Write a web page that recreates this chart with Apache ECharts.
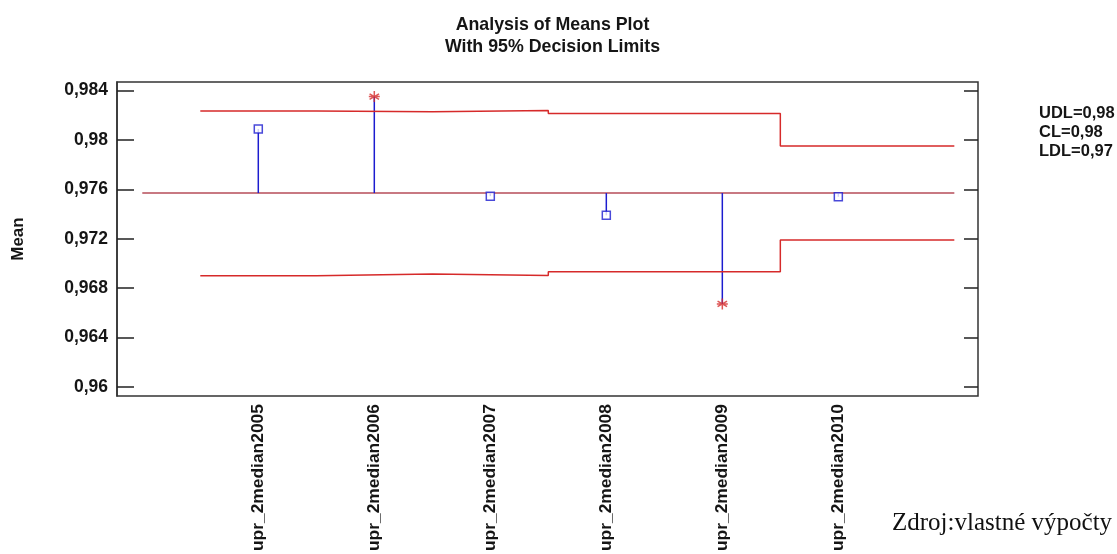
<!DOCTYPE html>
<html><head><meta charset="utf-8">
<script src="https://cdn.jsdelivr.net/npm/echarts@6/dist/echarts.min.js"></script>
<style>html,body{margin:0;padding:0;background:#fff}#c{width:1117px;height:554px}</style>
</head><body><div id="c"></div>
<script>
const categories = ['upr_2median2005','upr_2median2006','upr_2median2007','upr_2median2008','upr_2median2009','upr_2median2010'];
const means = [0.98089, 0.98352, 0.97545, 0.97390, 0.96672, 0.97540];
const centerLine = 0.9757;
const upperLimits = [0.98236, 0.98228, 0.98240, 0.98215, 0.98215, 0.97952];
const lowerLimits = [0.96900, 0.96914, 0.96903, 0.96932, 0.96932, 0.97190];
const yTicks = [0.96, 0.964, 0.968, 0.972, 0.976, 0.98, 0.984];
const summaryLabels = ['UDL=0,98', 'CL=0,98', 'LDL=0,97'];
const titleLines = ['Analysis of Means Plot', 'With 95% Decision Limits'];
const sourceNote = 'Zdroj:vlastné výpočty';

const FONT = "'Liberation Sans', Arial, sans-serif";
const RED = '#d62a2a', BLUE = '#1c1ccf', CLCOL = '#b64c58';
const n = categories.length;
const xEnd = n + 1;

function stepData(vals){
  const pts = [];
  vals.forEach((v, i) => {
    const a = i + 0.5, b = (i === vals.length - 1) ? xEnd : i + 1.5;
    pts.push([a, v], [b, v]);
  });
  return pts;
}
const inside = [], outside = [];
means.forEach((m, i) => {
  const p = [i + 1, m];
  if (m > upperLimits[i] || m < lowerLimits[i]) outside.push(p); else inside.push(p);
});
const fmt = v => String(+(+v).toFixed(3)).replace('.', ',');
const asterisk = 'path://M5 0L5 10M0.7 2.5L9.3 7.5M9.3 2.5L0.7 7.5M0 5L10 5';

const chart = echarts.init(document.getElementById('c'));
chart.setOption({
  animation: false,
  backgroundColor: '#fff',
  title: [
    { text: titleLines.join('\n'), left: 547.5, top: 9, textAlign: 'center',
      textStyle: { fontFamily: FONT, fontWeight: 'bold', fontSize: 17.8, lineHeight: 22, color: '#151515' } },
    { text: summaryLabels.join('\n'), left: 1034, top: 99,
      textStyle: { fontFamily: FONT, fontWeight: 'bold', fontSize: 16.5, lineHeight: 19, color: '#151515' } },
    { text: sourceNote, left: 887, top: 506,
      textStyle: { fontFamily: "'Liberation Serif', 'Times New Roman', serif", fontWeight: 'normal', fontSize: 25, color: '#111' } }
  ],
  grid: { left: 117, top: 82, right: 139, bottom: 157, show: true, borderColor: '#333', borderWidth: 1.5, backgroundColor: 'transparent' },
  xAxis: {
    type: 'value', min: -0.218, max: 7.204,
    axisLine: { show: false }, axisTick: { show: false }, splitLine: { show: false },
    axisLabel: { customValues: categories.map((c, i) => i + 1), formatter: v => categories[Math.round(v) - 1] || '',
      rotate: 90, margin: 8, fontFamily: FONT, fontWeight: 'bold', fontSize: 17.4, color: '#151515' }
  },
  yAxis: [
    { type: 'value', min: 0.95925, max: 0.9847, position: 'left',
      name: 'Mean', nameLocation: 'middle', nameRotate: 90, nameGap: 90,
      nameTextStyle: { fontFamily: FONT, fontWeight: 'bold', fontSize: 17, color: '#151515' },
      axisLine: { show: true, onZero: false, lineStyle: { color: '#333', width: 1.5 } },
      axisTick: { show: true, inside: true, length: 17, customValues: yTicks, lineStyle: { color: '#222', width: 1.5 } },
      axisLabel: { customValues: yTicks, formatter: fmt, margin: 9, fontFamily: FONT, fontWeight: 'bold', fontSize: 17.5, color: '#151515' },
      splitLine: { show: false } },
    { type: 'value', min: 0.95925, max: 0.9847, position: 'right',
      axisLine: { show: false, onZero: false },
      axisTick: { show: true, inside: true, length: 14, customValues: yTicks, lineStyle: { color: '#222', width: 1.5 } },
      axisLabel: { show: false }, splitLine: { show: false } }
  ],
  series: [
    { type: 'line', data: [[0, centerLine], [xEnd, centerLine]], showSymbol: false, symbol: 'none',
      lineStyle: { color: CLCOL, width: 1.5 }, z: 2 },
    { type: 'custom', z: 3,
      data: means.map((m, i) => [i + 1, m]),
      renderItem: (params, api) => {
        const a = api.coord([api.value(0), centerLine]);
        const b = api.coord([api.value(0), api.value(1)]);
        return { type: 'line', shape: { x1: a[0], y1: a[1], x2: b[0], y2: b[1] }, style: { stroke: BLUE, lineWidth: 1.5 } };
      } },
    { type: 'line', data: stepData(upperLimits), showSymbol: false, symbol: 'none',
      lineStyle: { color: RED, width: 1.5 }, z: 4 },
    { type: 'line', data: stepData(lowerLimits), showSymbol: false, symbol: 'none',
      lineStyle: { color: RED, width: 1.5 }, z: 4 },
    { type: 'scatter', data: inside, symbol: 'rect', symbolSize: 8, z: 5,
      itemStyle: { color: '#fff', borderColor: BLUE, borderWidth: 1.5 } },
    { type: 'scatter', data: outside, symbol: asterisk, symbolSize: 11, z: 5,
      itemStyle: { color: 'none', borderColor: RED, borderWidth: 1.5 } }
  ]
});
</script></body></html>
